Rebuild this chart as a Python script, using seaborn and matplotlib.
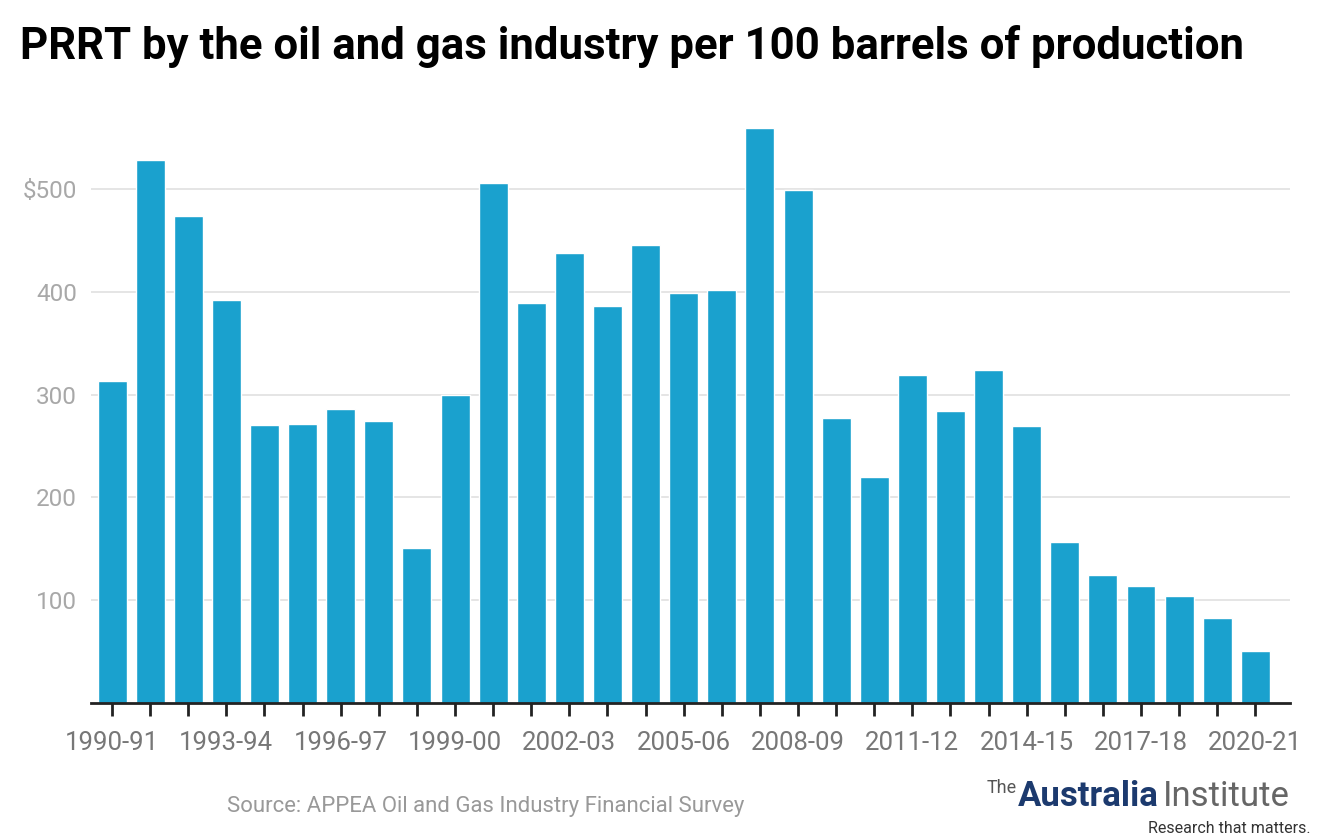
import matplotlib
matplotlib.use("Agg")
import matplotlib.pyplot as plt
import numpy as np
import pandas as pd
import seaborn as sns

# financial years and PRRT per 100 barrels
years = [f"{y}-{str(y + 1)[-2:]}" for y in range(1990, 2021)]
prrt = [313, 528, 474, 392, 270, 271, 286, 274, 151, 300,
        506, 389, 438, 386, 445, 399, 402, 559, 499, 277,
        220, 319, 284, 324, 269, 157, 125, 114, 104, 83, 51]
ytick_vals = [100, 200, 300, 400, 500]
ytick_text = ["100", "200", "300", "400", "$500"]

sns.set_theme(style="white")
plt.rcParams['font.family'] = ['Roboto', 'DejaVu Sans']

df = pd.DataFrame({"year": years, "prrt": prrt})

fig = plt.figure(figsize=(13.2, 8.4), dpi=100)
ax = fig.add_axes([0.069, 0.163, 0.908, 0.704])

sns.barplot(data=df, x="year", y="prrt", color="#1aa1ce", saturation=1,
            width=0.76, ax=ax)

ax.set_ylim(0, 575)
ax.set_xlim(-0.55, len(years) - 0.1)
ax.set_yticks(ytick_vals)
ax.set_yticklabels(ytick_text, fontsize=17.5, color="#a8a8a8")
ax.yaxis.grid(True, color="#e3e3e3", linewidth=1.3)
ax.set_axisbelow(True)

ax.set_xticks(range(len(years)))
ax.set_xticklabels([y if i % 3 == 0 else "" for i, y in enumerate(years)],
                   fontsize=18.5, color="#777777")
ax.tick_params(axis="x", length=9, width=2, color="#222222", pad=11, bottom=True)
ax.tick_params(axis="y", length=0, pad=10)
ax.set_xlabel("")
ax.set_ylabel("")

for s in ["top", "right", "left"]:
    ax.spines[s].set_visible(False)
ax.spines["bottom"].set_color("#222222")
ax.spines["bottom"].set_linewidth(2)

fig.text(0.015, 0.945, "PRRT by the oil and gas industry per 100 barrels of production",
         fontsize=31.5, fontweight="bold", color="black", va="center", ha="left")
fig.text(0.172, 0.04, "Source: APPEA Oil and Gas Industry Financial Survey",
         fontsize=15.9, color="#999999", va="center", ha="left")

# logo text, laid out right to left
r = fig.canvas.get_renderer()
t_inst = fig.text(0.977, 0.041, "Institute", fontsize=25, color="#666666",
                  va="baseline", ha="right")
x0 = t_inst.get_window_extent(r).x0 / fig.bbox.width
t_aus = fig.text(x0 - 0.003, 0.041, "Australia", fontsize=25, fontweight="bold",
                 color="#1c3a6e", va="baseline", ha="right")
x1 = t_aus.get_window_extent(r).x0 / fig.bbox.width
fig.text(x1 - 0.001, 0.056, "The", fontsize=13, color="#555555",
         va="baseline", ha="right")
fig.text(0.993, 0.014, "Research that matters.", fontsize=11.5, color="#333333",
         va="center", ha="right")

fig.savefig("out.png", dpi=100)
